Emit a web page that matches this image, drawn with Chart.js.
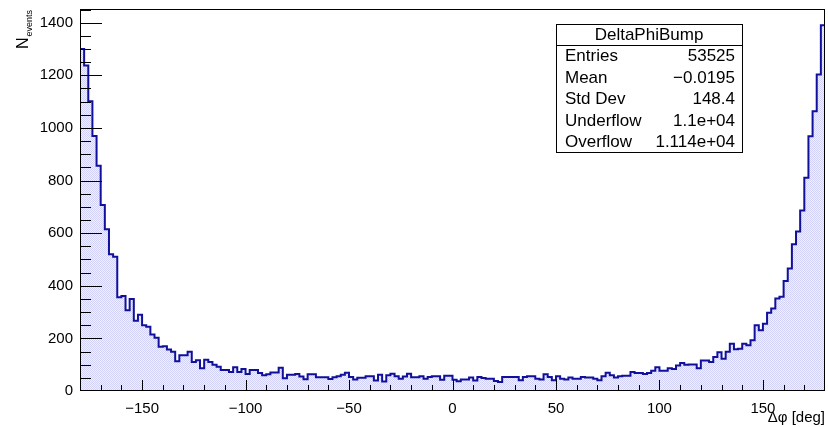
<!DOCTYPE html>
<html>
<head>
<meta charset="utf-8">
<script src="https://cdn.jsdelivr.net/npm/chart.js@4.4.1/dist/chart.umd.min.js"></script>
<style>
html, body { margin: 0; padding: 0; background: #fff; }
#wrap { width: 828px; height: 427px; }
</style>
</head>
<body>
<div id="wrap"><canvas id="deltaPhi" width="828" height="427"></canvas></div>
<script>
// histogram DeltaPhiBump, 180 bins from -180 to 180 deg
const histName = 'DeltaPhiBump';
const binLow = -180;
const binHigh = 180;
const counts = [
  1300, 1237, 1101, 969, 856, 707, 615, 520, 510, 356,
  361, 307, 350, 267, 290, 250, 244, 215, 202, 168,
  170, 158, 149, 113, 136, 136, 149, 110, 117, 86,
  119, 110, 100, 92, 80, 80, 72, 90, 72, 84,
  65, 80, 80, 68, 60, 64, 70, 70, 88, 48,
  62, 62, 65, 55, 45, 64, 64, 52, 52, 52,
  46, 52, 56, 62,
  69, 53, 44, 50, 50, 56, 56, 40, 62, 36,
  60, 66, 56, 47, 55, 66, 52, 52, 56, 47,
  53, 56, 56, 43, 58, 58, 43, 37, 44, 44,
  51, 40, 53, 49, 47,
  47, 38, 34, 53, 53, 53, 53, 41, 53, 56,
  56, 47, 44, 64, 53, 41, 56, 47, 44, 51,
  47, 47, 53, 51, 51, 47, 41, 56, 69, 60,
  51, 56, 58, 58,
  72, 68, 68, 65, 68, 77, 90, 77, 77, 86,
  84, 97, 106, 100, 101, 101, 86, 116, 116, 110,
  129, 147, 123, 149, 180, 159, 161, 180,
  174, 193, 250, 231, 256, 297, 314, 352, 358, 418,
  466, 558, 606, 686, 811, 968, 1063, 1203, 1390
];
const xTickValues = [-150, -100, -50, 0, 50, 100, 150];
const yTickValues = [0, 200, 400, 600, 800, 1000, 1200, 1400];
const yMax = 1452;
const statLabels = ['Entries', 'Mean', 'Std Dev', 'Underflow', 'Overflow'];
const statValues = ['53525', '\u22120.0195', '148.4', '1.1e+04', '1.114e+04'];

const FONT = '"Liberation Sans", Arial, Helvetica, sans-serif';
const binWidth = (binHigh - binLow) / counts.length;

// outline: left edge of every bin, closed down to zero at both ends
const points = [{x: binLow, y: 0}];
counts.forEach((c, i) => points.push({x: binLow + i * binWidth, y: c}));
points.push({x: binHigh, y: counts[counts.length - 1]});
points.push({x: binHigh, y: 0});

// ROOT-like dotted fill
const tile = document.createElement('canvas');
tile.width = tile.height = 2;
const tctx = tile.getContext('2d');
tctx.fillStyle = '#d2d2f8';
tctx.fillRect(0, 0, 1, 1); tctx.fillRect(1, 1, 1, 1);
tctx.fillStyle = '#f1f1fe';
tctx.fillRect(1, 0, 1, 1); tctx.fillRect(0, 1, 1, 1);
const dots = tctx.createPattern(tile, 'repeat');

const plain = v => String(v).replace('-', '\u2212');

const rootFrame = {
  id: 'rootFrame',
  afterDatasetsDraw(chart) {
    const {ctx, chartArea: a, scales: {x, y}} = chart;
    ctx.save();
    ctx.strokeStyle = '#000';
    ctx.lineWidth = 1;
    ctx.strokeRect(a.left + 0.5, a.top + 0.5, a.right - a.left - 1, a.bottom - a.top - 1);

    ctx.beginPath();
    for (let v = binLow + 10; v < binHigh; v += 10) {
      const px = Math.round(x.getPixelForValue(v)) + 0.5;
      const len = v % 50 === 0 ? 11 : 6;
      ctx.moveTo(px, a.bottom);
      ctx.lineTo(px, a.bottom - len);
    }
    for (let v = 50; v < yMax; v += 50) {
      const py = Math.round(y.getPixelForValue(v)) + 0.5;
      const len = v % 200 === 0 ? 22 : 11;
      ctx.moveTo(a.left, py);
      ctx.lineTo(a.left + len, py);
    }
    ctx.stroke();

    // axis titles
    ctx.fillStyle = '#000';
    ctx.font = '15px ' + FONT;
    ctx.textAlign = 'right';
    ctx.textBaseline = 'middle';
    ctx.fillText('\u0394\u03c6 [deg]', a.right, 418);

    ctx.save();
    ctx.translate(28, 49);
    ctx.rotate(-Math.PI / 2);
    ctx.textAlign = 'left';
    ctx.textBaseline = 'alphabetic';
    ctx.font = '16px ' + FONT;
    ctx.fillText('N', 0, 0);
    const nw = ctx.measureText('N').width;
    ctx.font = '9px ' + FONT;
    ctx.fillText('events', nw + 1, 4);
    ctx.restore();

    // stats box
    const bx = 556, by = 24, bw = 186, bh = 128, titleH = 21;
    ctx.fillStyle = '#fff';
    ctx.fillRect(bx, by, bw, bh);
    ctx.strokeRect(bx + 0.5, by + 0.5, bw, bh);
    ctx.beginPath();
    ctx.moveTo(bx, by + titleH + 0.5);
    ctx.lineTo(bx + bw, by + titleH + 0.5);
    ctx.stroke();
    ctx.fillStyle = '#000';
    ctx.font = '17px ' + FONT;
    ctx.textAlign = 'center';
    ctx.fillText(histName, bx + bw / 2, by + titleH / 2 + 1);
    const rowH = (bh - titleH) / statLabels.length;
    statLabels.forEach((lab, i) => {
      const ry = by + titleH + rowH * (i + 0.5) + 1;
      ctx.textAlign = 'left';
      ctx.fillText(lab, bx + 9, ry);
      ctx.textAlign = 'right';
      ctx.fillText(statValues[i], bx + bw - 7, ry);
    });
    ctx.restore();
  }
};

new Chart(document.getElementById('deltaPhi'), {
  type: 'line',
  data: {
    datasets: [{
      label: histName,
      data: points,
      stepped: 'before',
      borderColor: '#10109c',
      borderWidth: 2,
      pointRadius: 0,
      fill: 'origin',
      backgroundColor: dots
    }]
  },
  options: {
    responsive: false,
    devicePixelRatio: 1,
    animation: false,
    layout: {padding: {top: 9, right: 3, left: 0, bottom: 0}},
    plugins: {legend: {display: false}, tooltip: {enabled: false}},
    scales: {
      x: {
        type: 'linear',
        min: binLow,
        max: binHigh,
        grid: {display: false, drawTicks: false},
        border: {display: false},
        afterBuildTicks: s => { s.ticks = xTickValues.map(v => ({value: v})); },
        afterFit: s => { s.height = 36; s.paddingLeft = 0; s.paddingRight = 0; },
        ticks: {
          color: '#000', font: {family: FONT, size: 15}, padding: 9,
          maxRotation: 0, autoSkip: false, callback: plain
        }
      },
      y: {
        type: 'linear',
        min: 0,
        max: yMax,
        grid: {display: false, drawTicks: false},
        border: {display: false},
        afterBuildTicks: s => { s.ticks = yTickValues.map(v => ({value: v})); },
        afterFit: s => { s.width = 80; s.paddingTop = 0; s.paddingBottom = 0; },
        ticks: {color: '#000', font: {family: FONT, size: 15}, padding: 7, autoSkip: false, callback: plain}
      }
    }
  },
  plugins: [rootFrame]
});
</script>
</body>
</html>
